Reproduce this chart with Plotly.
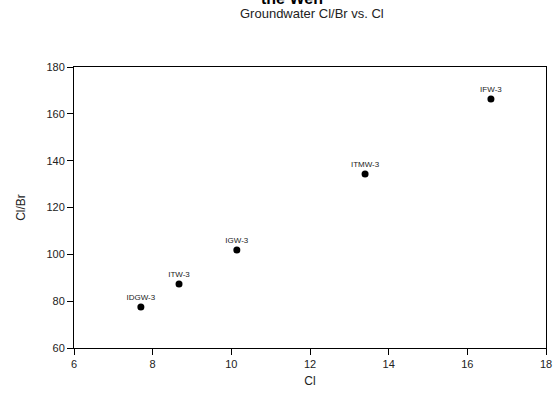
import plotly.graph_objects as go

# Sample identifiers and measured values
sites = ["IDGW-3", "ITW-3", "IGW-3", "ITMW-3", "IFW-3"]
cl = [7.70, 8.67, 10.14, 13.40, 16.60]
cl_br = [77.5, 87.3, 101.9, 134.3, 166.3]

x_ticks = [6, 8, 10, 12, 14, 16, 18]
y_ticks = [60, 80, 100, 120, 140, 160, 180]

FONT = "Liberation Sans, Arial, sans-serif"

fig = go.Figure()
fig.add_trace(go.Scatter(
    x=cl, y=cl_br,
    mode="markers+text",
    marker=dict(color="black", size=7),
    text=sites,
    textposition="top center",
    textfont=dict(family=FONT, size=8, color="#222"),
    cliponaxis=False,
    showlegend=False,
))

axis_common = dict(
    showline=True, linecolor="black", linewidth=1, mirror=True,
    ticks="outside", ticklen=6, tickcolor="black", tickwidth=1,
    showgrid=False, zeroline=False,
    tickfont=dict(family=FONT, size=11, color="#222"),
)

fig.update_xaxes(
    range=[6, 18], tickvals=x_ticks,
    title=dict(text="Cl", font=dict(family=FONT, size=12, color="#222"), standoff=7),
    **axis_common,
)
fig.update_yaxes(
    range=[60, 180], tickvals=y_ticks,
    title=dict(text="Cl/Br", font=dict(family=FONT, size=12, color="#222"), standoff=18),
    **axis_common,
)

# Main title (its upper part runs past the page top) and subtitle
fig.add_annotation(
    text="<b>the Wen</b>", xref="paper", yref="paper",
    x=0.462, y=1.245, yanchor="middle", showarrow=False,
    font=dict(family=FONT, size=16, color="black"),
)
fig.add_annotation(
    text="Groundwater Cl/Br vs. Cl", xref="paper", yref="paper",
    x=0.505, y=1.19, yanchor="middle", showarrow=False,
    font=dict(family=FONT, size=13, color="#222"),
)

fig.update_layout(
    width=556, height=395,
    margin=dict(l=74, r=10, t=67, b=47, autoexpand=False),
    paper_bgcolor="white", plot_bgcolor="white",
)

fig.write_html("out.html")
